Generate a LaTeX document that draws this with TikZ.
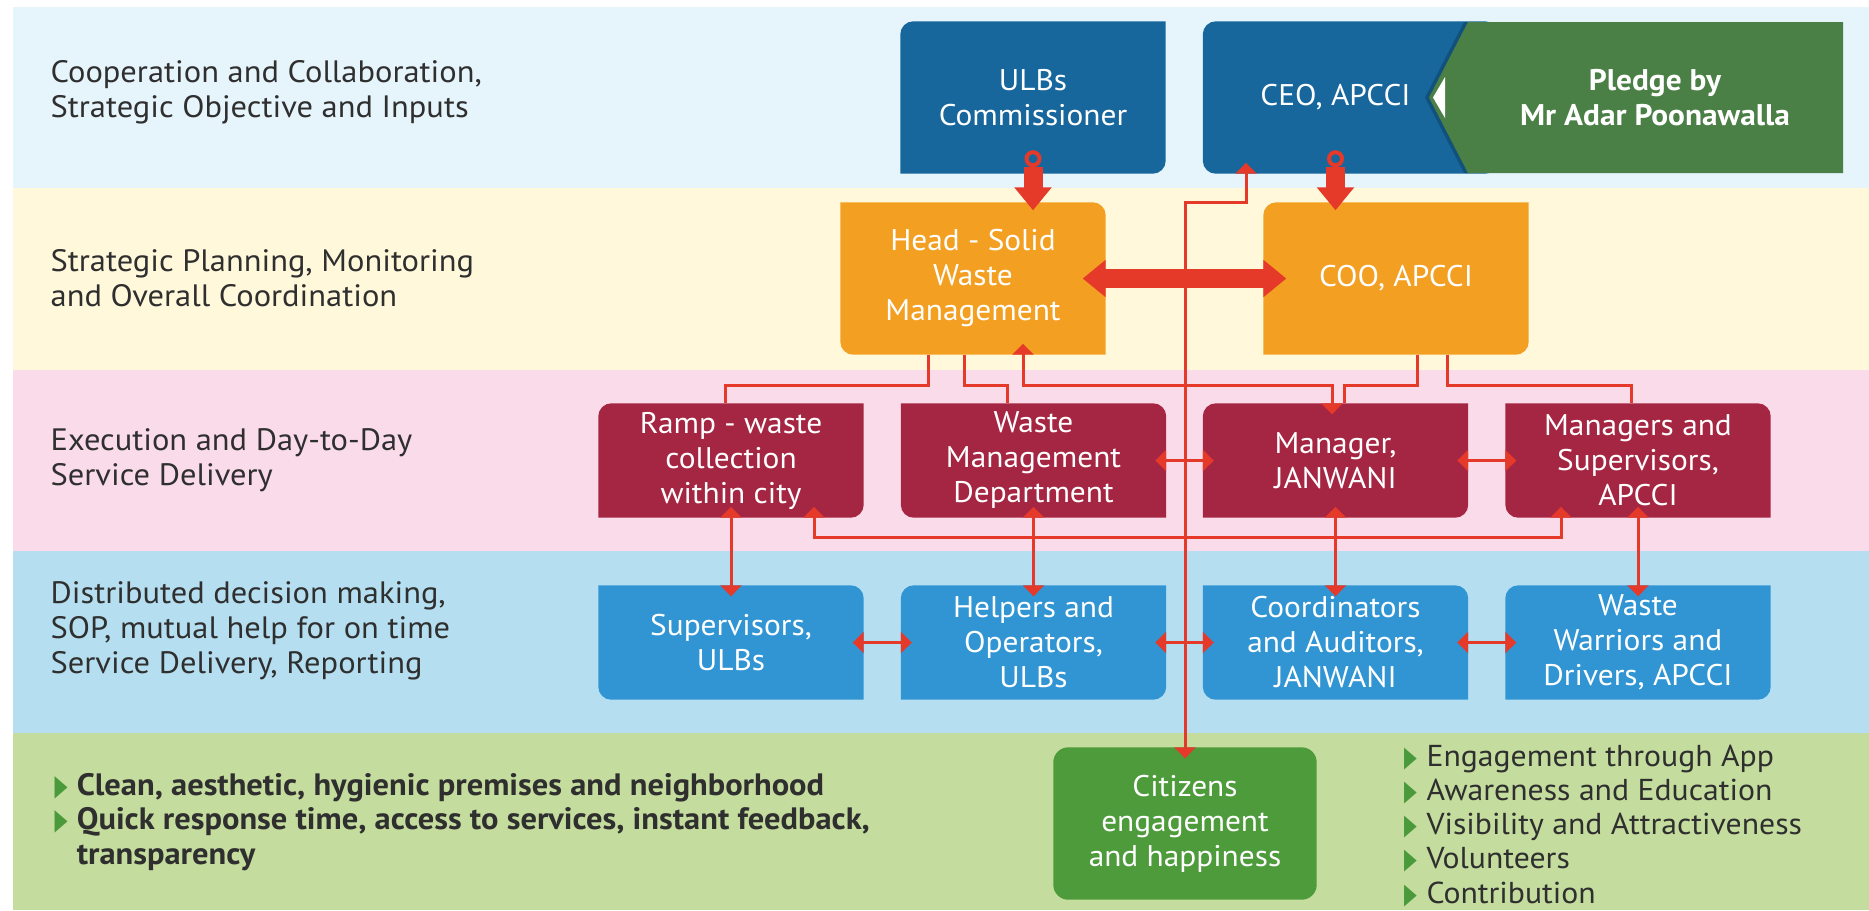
\documentclass[tikz,border=0pt]{standalone}
\usepackage{fontspec}
\setmainfont{PT Sans}[FakeStretch=1.05]
\newfontfamily\symfont{DejaVu Sans}
\usepackage{xcolor}
\usepackage{graphicx}
\usepackage{tikz}
\usetikzlibrary{arrows.meta}
\usetikzlibrary{calc,backgrounds}

\definecolor{bandA}{HTML}{E6F4FC}
\definecolor{bandB}{HTML}{FFF8DA}
\definecolor{bandC}{HTML}{FADBE9}
\definecolor{bandD}{HTML}{B5DFF0}
\definecolor{bandE}{HTML}{C4DC9D}
\definecolor{darkblue}{HTML}{17669C}
\definecolor{pledgegreen}{HTML}{4A7F45}
\definecolor{orangebox}{HTML}{F39F22}
\definecolor{crimson}{HTML}{A52642}
\definecolor{skyblue}{HTML}{3195D3}
\definecolor{citgreen}{HTML}{4E9B3C}
\definecolor{linkred}{HTML}{E5392A}
\definecolor{ink}{HTML}{2F2F2F}
\definecolor{bulgreen}{HTML}{4A9A3C}

% corner radius of the boxes
\newcommand{\rr}{1.3mm}
% box rounded at north west and south east
\newcommand{\leafA}[2]{\fill[#2] (#1.south west) -- ([yshift=-\rr]#1.north west) arc[start angle=180,end angle=90,radius=\rr] -- (#1.north east) -- ([yshift=\rr]#1.south east) arc[start angle=0,end angle=-90,radius=\rr] -- cycle;}
% box rounded at north east and south west
\newcommand{\leafB}[2]{\fill[#2] (#1.north west) -- ([xshift=-\rr]#1.north east) arc[start angle=90,end angle=0,radius=\rr] -- (#1.south east) -- ([xshift=\rr]#1.south west) arc[start angle=270,end angle=180,radius=\rr] -- cycle;}
\newcommand{\bul}{\textcolor{bulgreen}{\scalebox{0.55}[0.95]{\symfont ▶}}}

\tikzset{
 box/.style={text=white, align=center, inner sep=0pt, minimum width=26.4mm, minimum height=11.3mm, font=\fontsize{8.5}{9.96}\selectfont},
 bigbox/.style={box, minimum height=15.1mm},
 band label/.style={anchor=west, align=left, text=ink, inner sep=0pt, font=\fontsize{8.8}{9.96}\selectfont},
 link/.style={draw=linkred, line width=0.3mm},
 tw/.style={link, {Triangle[length=1.1mm,width=2.1mm]}-{Triangle[length=1.1mm,width=2.1mm]}, shorten <=-1.1mm, shorten >=-1.1mm},
 fat/.style={draw=linkred, line width=1.9mm, -{Triangle[length=2.3mm,width=3.6mm]}},
}

\begin{document}
\begin{tikzpicture}[x=0.1mm, y=-0.1mm]
\useasboundingbox (0,0) rectangle (1869,910);

% band labels
\node[band label] (coop) at (50,92) {Cooperation and Collaboration,\\Strategic Objective and Inputs};
\node[band label] (plan) at (50,278) {Strategic Planning, Monitoring\\and Overall Coordination};
\node[band label] (exec) at (50,460) {Execution and Day-to-Day\\Service Delivery};
\node[band label] (dist) at (50,631) {Distributed decision making,\\SOP, mutual help for on time\\Service Delivery, Reporting};

% boxes
\node[bigbox] (ulbs) at (1033,97.5) {ULBs\\Commissioner};
\node[bigbox] (ceo) at (1335.5,97.5) {CEO, APCCI};
\node[bigbox, font=\fontsize{8.5}{9.96}\selectfont\bfseries, minimum width=30mm] (pledge) at (1655,98) {Pledge by\\Mr Adar Poonawalla};
\node[bigbox] (head) at (973,278.5) {Head - Solid\\Waste\\Management};
\node[bigbox] (coo) at (1396,278.5) {COO, APCCI};
\node[box] (ramp) at (731,460.5) {Ramp - waste\\collection\\within city};
\node[box] (wmd) at (1033.5,460.5) {Waste\\Management\\Department};
\node[box] (mgr) at (1335.5,460.5) {Manager,\\JANWANI};
\node[box] (mapcci) at (1638,460.5) {Managers and\\Supervisors,\\APCCI};
\node[box] (sup) at (731,642.5) {Supervisors,\\ULBs};
\node[box] (help) at (1033.5,642.5) {Helpers and\\Operators,\\ULBs};
\node[box] (coord) at (1335.5,642.5) {Coordinators\\and Auditors,\\JANWANI};
\node[box] (warr) at (1638,642.5) {Waste\\Warriors and\\Drivers, APCCI};
\node[bigbox, minimum width=26.2mm] (citizens) at (1185,823.5) {Citizens\\engagement\\and happiness};

% bullet lists
\node[anchor=west, inner sep=0pt, text=ink, font=\fontsize{8.8}{9.9}\selectfont\bfseries] (outcomes) at (54,823) {%
 \begin{tabular}{@{}l@{\hspace{0.9mm}}l@{}}
 \bul & Clean, aesthetic, hygienic premises and neighborhood\\
 \bul & Quick response time, access to services, instant feedback,\\
 & transparency
 \end{tabular}};
\node[anchor=west, inner sep=0pt, text=ink, font=\fontsize{8.6}{9.7}\selectfont] (engage) at (1404,828) {%
 \begin{tabular}{@{}l@{\hspace{0.9mm}}l@{}}
 \bul & Engagement through App\\
 \bul & Awareness and Education\\
 \bul & Visibility and Attractiveness\\
 \bul & Volunteers\\
 \bul & Contribution
 \end{tabular}};

\begin{scope}[on background layer]
\foreach \ya/\yb/\c in {7/188/bandA, 188/370/bandB, 370/551/bandC, 551/733/bandD, 733/910/bandE}
 \fill[\c] (12.7,\ya) rectangle (1869,\yb);
\leafA{ulbs}{darkblue}
\fill[darkblue, rounded corners=\rr] (ceo.north west) rectangle ([xshift=3mm]ceo.south east);
\fill[black, opacity=0.2] (1464,22) -- (1425,97.5) -- (1464,173) -- (1470,173) -- (1470,22) -- cycle;
\fill[pledgegreen] (1468,22) -- (1843,22) -- (1843,173) -- (1468,173) -- (1429,97.5) -- cycle;
\fill[white] (1433,97.5) -- (1445,77) -- (1445,118) -- cycle;
\leafB{head}{orangebox}
\leafA{coo}{orangebox}
\leafA{ramp}{crimson}
\leafB{wmd}{crimson}
\leafA{mgr}{crimson}
\leafB{mapcci}{crimson}
\leafB{sup}{skyblue}
\leafA{help}{skyblue}
\leafB{coord}{skyblue}
\leafA{warr}{skyblue}
\fill[citgreen, rounded corners=1.5mm] (citizens.north west) rectangle (citizens.south east);
\end{scope}

% links from the planning row
\draw[link] ([xshift=-4.5mm]head.south) -- ++(0,31) -| ([xshift=-0.55mm]ramp.north);
\draw[link] ([xshift=-0.9mm]head.south) -- ++(0,31) -| ([xshift=-2.6mm]wmd.north);
\draw[link] ([xshift=2.15mm]coo.south) -- ++(0,31) -| ([xshift=0.9mm]mgr.north);
\draw[link] ([xshift=5.15mm]coo.south) -- ++(0,31) -| ([xshift=-0.65mm]mapcci.north);
\draw[tw] ([xshift=5mm]head.south) -- ++(0,31) -| ([xshift=-0.35mm]mgr.north);
\draw[tw] ([xshift=8.3mm]ramp.south) -- ++(0,20) -| ([xshift=-7.7mm]mapcci.south);

\foreach \a/\b in {ramp/sup, wmd/help, mgr/coord, mapcci/warr}
 \draw[tw] (\a.south) -- (\b.north);
\foreach \a/\b in {wmd/mgr, mgr/mapcci, sup/help, help/coord, coord/warr}
 \draw[tw] (\a.east) -- (\b.west);

% fat arrows
\draw[fat, shorten >=-0.8mm] ([yshift=0.7mm]ulbs.south) -- (ulbs.south |- head.north);
\draw[linkred, line width=0.4mm, fill=darkblue] ([yshift=1.5mm]ulbs.south) circle[radius=0.65mm];
\draw[fat, shorten >=-0.8mm] ([yshift=0.7mm]ceo.south) -- (ceo.south |- coo.north);
\draw[linkred, line width=0.4mm, fill=darkblue] ([yshift=1.5mm]ceo.south) circle[radius=0.65mm];
\draw[fat, {Triangle[length=2.3mm,width=3.6mm]}-{Triangle[length=2.3mm,width=3.6mm]}, shorten <=-2.3mm, shorten >=-2.3mm] (head.east) -- (coo.west);

% citizens line
\draw[tw] (citizens.north) -- (citizens.north |- coo.north) -| ([xshift=-8.95mm]ceo.south);
\end{tikzpicture}
\end{document}
